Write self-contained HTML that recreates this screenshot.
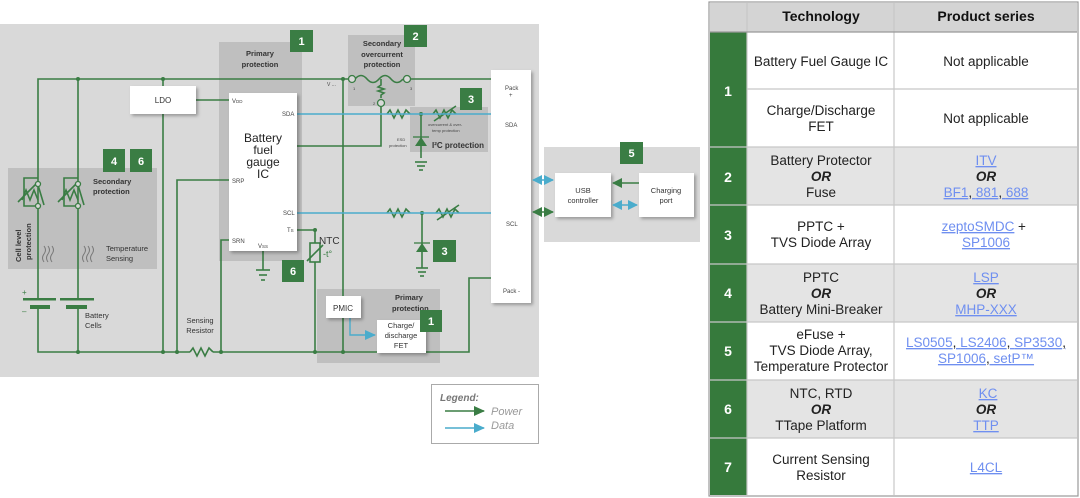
<!DOCTYPE html>
<html><head><meta charset="utf-8"><style>
html,body{margin:0;padding:0;background:#fff;width:1080px;height:498px;overflow:hidden}
svg{display:block}
text{font-family:"Liberation Sans",sans-serif}
</style></head><body>
<svg width="1080" height="498" viewBox="0 0 1080 498" xmlns="http://www.w3.org/2000/svg">
<defs>
<filter id="sh" x="-20%" y="-20%" width="150%" height="150%"><feDropShadow dx="2" dy="2" stdDeviation="1.5" flood-color="#000" flood-opacity="0.3"/></filter>
<marker id="ag" markerWidth="11" markerHeight="10" refX="10" refY="5" orient="auto" markerUnits="userSpaceOnUse"><path d="M0,0 L11,5 L0,10z" fill="#3a7d44"/></marker>
<marker id="ab" markerWidth="11" markerHeight="10" refX="10" refY="5" orient="auto" markerUnits="userSpaceOnUse"><path d="M0,0 L11,5 L0,10z" fill="#4aaccc"/></marker>
<marker id="agS" markerWidth="10" markerHeight="10" refX="9" refY="5" orient="auto-start-reverse" markerUnits="userSpaceOnUse"><path d="M0,0 L10,5 L0,10z" fill="#3a7d44"/></marker>
<marker id="abS" markerWidth="10" markerHeight="10" refX="9" refY="5" orient="auto-start-reverse" markerUnits="userSpaceOnUse"><path d="M0,0 L10,5 L0,10z" fill="#4aaccc"/></marker>
</defs>
<rect x="0" y="24" width="539" height="353" fill="#d9d9d9"/>
<rect x="219" y="42" width="83" height="219" fill="#bfbfbf"/>
<rect x="348" y="35" width="67" height="71" fill="#bfbfbf"/>
<rect x="410" y="107" width="78" height="45" fill="#bfbfbf"/>
<rect x="8" y="168" width="149" height="101" fill="#bfbfbf"/>
<rect x="317" y="289" width="123" height="74" fill="#bfbfbf"/>
<text x="260" y="56" font-size="7.5" font-weight="bold" text-anchor="middle" fill="#333">Primary</text>
<text x="260" y="67" font-size="7.5" font-weight="bold" text-anchor="middle" fill="#333">protection</text>
<text x="382" y="46" font-size="7.5" font-weight="bold" text-anchor="middle" fill="#333">Secondary</text>
<text x="382" y="57" font-size="7.5" font-weight="bold" text-anchor="middle" fill="#333">overcurrent</text>
<text x="382" y="67" font-size="7.5" font-weight="bold" text-anchor="middle" fill="#333">protection</text>
<text x="458" y="148" font-size="8" font-weight="bold" text-anchor="middle" fill="#333">I²C protection</text>
<text x="93" y="184" font-size="7.5" font-weight="bold" fill="#333">Secondary</text>
<text x="93" y="194" font-size="7.5" font-weight="bold" fill="#333">protection</text>
<text x="106" y="251" font-size="7.5" fill="#333">Temperature</text>
<text x="106" y="261" font-size="7.5" fill="#333">Sensing</text>
<text transform="translate(21,262) rotate(-90)" font-size="7.5" font-weight="bold" fill="#333">Cell level</text>
<text transform="translate(31,260) rotate(-90)" font-size="7.5" font-weight="bold" fill="#333">protection</text>
<text x="395" y="300" font-size="7.5" font-weight="bold" fill="#333">Primary</text>
<text x="392" y="311" font-size="7.5" font-weight="bold" fill="#333">protection</text>
<g stroke="#3a7d44" stroke-width="1.6" fill="none">
<polyline points="38,299 38,79 352,79"/>
<line x1="78" y1="79" x2="78" y2="299"/>
<line x1="163" y1="79" x2="163" y2="352"/>
<polyline points="38,307 38,352 190,352"/>
<line x1="78" y1="307" x2="78" y2="352"/>
<polyline points="213,352 377,352"/>
<polyline points="426,352 469,352 469,278 507,278" marker-end="url(#ag)"/>
<line x1="407" y1="79" x2="507" y2="79" marker-end="url(#ag)"/>
<line x1="343" y1="79" x2="343" y2="296"/>
<line x1="343" y1="318" x2="343" y2="352"/>
<line x1="196" y1="100" x2="229" y2="100"/>
<polyline points="229,180 177,180 177,352"/>
<polyline points="229,240 221,240 221,352"/>
<polyline points="297,146 381,146 381,107"/>
<polyline points="297,230 315,230 315,243"/>
<line x1="315" y1="262" x2="315" y2="352"/>
<rect x="310" y="243" width="10" height="19"/>
<line x1="307" y1="261" x2="323" y2="245"/>
<line x1="263" y1="251" x2="263" y2="270"/>
<line x1="256" y1="270" x2="270" y2="270"/><line x1="259" y1="275" x2="267" y2="275"/><line x1="261" y1="280" x2="265" y2="280"/>
<path d="M355,79 q6,-7 12,0 q6,7 12,0 q6,-7 12,0 q6,7 12,0"/>
<path d="M381,79 v6 l-3,2 l6,2 l-6,2 l6,2 l-3,2 v3"/>
<path d="M190,352 l3,-4 l4,8 l4,-8 l4,8 l4,-8 l4,4"/>
<path d="M387,114 l3,-4 l4,8 l4,-8 l4,8 l4,-8 l4,4"/>
<path d="M433,114 l3,-4 l4,8 l4,-8 l4,8 l4,-8 l4,4"/><line x1="434" y1="121" x2="456" y2="106"/>
<line x1="421" y1="114" x2="421" y2="158"/>
<line x1="415" y1="162" x2="427" y2="162"/><line x1="417" y1="166" x2="425" y2="166"/><line x1="419" y1="170" x2="423" y2="170"/>
<path d="M387,213 l3,-4 l4,8 l4,-8 l4,8 l4,-8 l4,4"/>
<path d="M436,213 l3,-4 l4,8 l4,-8 l4,8 l4,-8 l4,4"/><line x1="437" y1="220" x2="459" y2="205"/>
<line x1="422" y1="213" x2="422" y2="268"/>
<line x1="416" y1="268" x2="428" y2="268"/><line x1="418" y1="272" x2="426" y2="272"/><line x1="420" y1="276" x2="424" y2="276"/>
<path d="M38,178 h-14 v28 h14"/><path d="M22,200 l4,-10 l4,10 l4,-10 l4,10"/><line x1="18" y1="202" x2="36" y2="184"/>
<line x1="38" y1="185" x2="44" y2="205"/>
<path d="M78,178 h-14 v28 h14"/><path d="M62,200 l4,-10 l4,10 l4,-10 l4,10"/><line x1="58" y1="202" x2="76" y2="184"/>
<line x1="78" y1="185" x2="84" y2="205"/>
</g>
<g fill="#d9d9d9" stroke="#3a7d44" stroke-width="1.3">
<circle cx="352" cy="79" r="3.5"/><circle cx="407" cy="79" r="3.5"/><circle cx="381" cy="103" r="3.5"/>
<circle cx="38" cy="184" r="2.5"/><circle cx="38" cy="206" r="2.5"/><circle cx="78" cy="184" r="2.5"/><circle cx="78" cy="206" r="2.5"/>
</g>
<g fill="#3a7d44">
<circle cx="78" cy="79" r="2"/><circle cx="163" cy="79" r="2"/><circle cx="343" cy="79" r="2"/>
<circle cx="78" cy="352" r="2"/><circle cx="163" cy="352" r="2"/><circle cx="177" cy="352" r="2"/><circle cx="221" cy="352" r="2"/><circle cx="315" cy="352" r="2"/><circle cx="343" cy="352" r="2"/><circle cx="315" cy="230" r="2"/>
<circle cx="421" cy="114" r="2"/><circle cx="422" cy="213" r="2"/>
<path d="M415,146 h12 l-6,-9z"/><path d="M416,252 h12 l-6,-9z"/>
<rect x="23" y="298" width="33" height="2.5"/><rect x="60" y="298" width="34" height="2.5"/>
<rect x="30" y="305" width="20" height="4"/><rect x="66" y="305" width="21" height="4"/>
</g>
<g stroke="#3a7d44" stroke-width="1.3"><line x1="413" y1="137" x2="429" y2="137"/><line x1="414" y1="243" x2="430" y2="243"/></g>
<text x="22" y="295" font-size="8" fill="#3a7d44">+</text><text x="22" y="314" font-size="8" fill="#3a7d44">–</text>
<g stroke="#777" stroke-width="1" fill="none">
<path d="M44,262 q-3,-4 0,-8 q3,-4 0,-8 M48,262 q-3,-4 0,-8 q3,-4 0,-8 M52,262 q-3,-4 0,-8 q3,-4 0,-8"/>
<path d="M84,262 q-3,-4 0,-8 q3,-4 0,-8 M88,262 q-3,-4 0,-8 q3,-4 0,-8 M92,262 q-3,-4 0,-8 q3,-4 0,-8"/>
</g>
<g stroke="#4aaccc" stroke-width="1.4" fill="none">
<line x1="297" y1="114" x2="510" y2="114" marker-end="url(#ab)"/>
<line x1="297" y1="213" x2="510" y2="213" marker-end="url(#ab)"/>
<polyline points="350,318 350,335 375,335" marker-end="url(#ab)"/>
</g>
<g fill="#fff" filter="url(#sh)">
<rect x="130" y="86" width="66" height="28"/>
<rect x="229" y="93" width="68" height="158"/>
<rect x="326" y="296" width="35" height="22"/>
<rect x="377" y="320" width="49" height="33"/>
<rect x="491" y="70" width="40" height="233"/>
</g>
<text x="163" y="103" font-size="8" text-anchor="middle" fill="#333">LDO</text>
<text x="263" y="142" font-size="12" text-anchor="middle" fill="#222">Battery</text>
<text x="263" y="154" font-size="12" text-anchor="middle" fill="#222">fuel</text>
<text x="263" y="166" font-size="12" text-anchor="middle" fill="#222">gauge</text>
<text x="263" y="178" font-size="12" text-anchor="middle" fill="#222">IC</text>
<g font-size="6" fill="#444">
<text x="232" y="103">V<tspan font-size="4.5">DD</tspan></text>
<text x="282" y="116">SDA</text>
<text x="232" y="183">SRP</text>
<text x="283" y="215">SCL</text>
<text x="287" y="232">T<tspan font-size="4.5">S</tspan></text>
<text x="232" y="243">SRN</text>
<text x="258" y="248">V<tspan font-size="4.5">SS</tspan></text>
<text x="327" y="86" font-size="5">V ...</text>
<text x="505" y="90">Pack</text><text x="509" y="97">+</text>
<text x="505" y="127">SDA</text>
<text x="506" y="226">SCL</text>
<text x="503" y="293">Pack -</text>
<text x="353" y="90" font-size="4">1</text><text x="410" y="90" font-size="4">3</text><text x="373" y="105" font-size="4">2</text>
<text x="428" y="126" font-size="4">overcurrent &amp; over-</text><text x="432" y="132" font-size="4">temp protection</text>
<text x="397" y="141" font-size="4">ESD</text><text x="389" y="147" font-size="4">protection</text>
</g>
<text x="319" y="244" font-size="10" fill="#333">NTC</text>
<text x="323" y="257" font-size="9" fill="#3a7d44">-t°</text>
<text x="343" y="311" font-size="8" text-anchor="middle" fill="#333">PMIC</text>
<text x="401" y="328" font-size="7.5" text-anchor="middle" fill="#333">Charge/</text>
<text x="401" y="338" font-size="7.5" text-anchor="middle" fill="#333">discharge</text>
<text x="401" y="348" font-size="7.5" text-anchor="middle" fill="#333">FET</text>
<text x="85" y="318" font-size="7.5" fill="#333">Battery</text><text x="85" y="328" font-size="7.5" fill="#333">Cells</text>
<text x="200" y="323" font-size="7.5" text-anchor="middle" fill="#333">Sensing</text><text x="200" y="333" font-size="7.5" text-anchor="middle" fill="#333">Resistor</text>
<rect x="544" y="147" width="156" height="95" fill="#d9d9d9"/>
<rect x="555" y="173" width="56" height="44" fill="#fff" filter="url(#sh)"/>
<rect x="639" y="173" width="55" height="44" fill="#fff" filter="url(#sh)"/>
<text x="583" y="193" font-size="7.5" text-anchor="middle" fill="#333">USB</text>
<text x="583" y="203" font-size="7.5" text-anchor="middle" fill="#333">controller</text>
<text x="666" y="193" font-size="7.5" text-anchor="middle" fill="#333">Charging</text>
<text x="666" y="203" font-size="7.5" text-anchor="middle" fill="#333">port</text>
<line x1="533" y1="180" x2="553" y2="180" stroke="#4aaccc" stroke-width="1.6" marker-start="url(#abS)" marker-end="url(#abS)"/>
<line x1="533" y1="212" x2="553" y2="212" stroke="#3a7d44" stroke-width="1.6" marker-start="url(#agS)" marker-end="url(#agS)"/>
<line x1="639" y1="183" x2="613" y2="183" stroke="#3a7d44" stroke-width="1.6" marker-end="url(#agS)"/>
<line x1="613" y1="205" x2="637" y2="205" stroke="#4aaccc" stroke-width="1.6" marker-start="url(#abS)" marker-end="url(#abS)"/>
<g fill="#3a7d44">
<rect x="290" y="30" width="23" height="22"/><rect x="404" y="25" width="23" height="22"/>
<rect x="460" y="88" width="22" height="22"/><rect x="103" y="149" width="22" height="23"/>
<rect x="130" y="149" width="22" height="23"/><rect x="433" y="240" width="23" height="22"/>
<rect x="282" y="260" width="22" height="22"/><rect x="420" y="310" width="22" height="22"/>
<rect x="620" y="142" width="23" height="22"/>
</g>
<g font-size="11" font-weight="bold" fill="#fff" text-anchor="middle">
<text x="301.5" y="45">1</text><text x="415.5" y="40">2</text><text x="471" y="103">3</text>
<text x="114" y="165">4</text><text x="141" y="165">6</text><text x="444.5" y="255">3</text>
<text x="293" y="275">6</text><text x="431" y="325">1</text><text x="631.5" y="157">5</text>
</g>
<rect x="431.5" y="384.5" width="107" height="59" fill="#fff" stroke="#aaa"/>
<text x="440" y="401" font-size="10" font-weight="bold" font-style="italic" fill="#777">Legend:</text>
<line x1="445" y1="411" x2="484" y2="411" stroke="#3a7d44" stroke-width="1.6" marker-end="url(#ag)"/>
<line x1="445" y1="428" x2="484" y2="428" stroke="#4aaccc" stroke-width="1.6" marker-end="url(#ab)"/>
<text x="491" y="415" font-size="11" font-style="italic" fill="#999">Power</text>
<text x="491" y="429" font-size="11" font-style="italic" fill="#999">Data</text>
<rect x="709" y="2" width="369" height="494" fill="#fff" stroke="#999" stroke-width="1.2"/>
<rect x="710" y="3" width="367" height="29" fill="#d4d4d4"/>
<g fill="#e4e4e4"><rect x="747" y="147" width="330" height="58"/><rect x="747" y="264" width="330" height="58"/><rect x="747" y="380" width="330" height="58"/></g>
<rect x="710" y="32" width="37" height="463" fill="#367a3c"/>
<g stroke="#c8c8c8" stroke-width="1.2">
<line x1="747" y1="3" x2="747" y2="495"/><line x1="894" y1="3" x2="894" y2="495"/>
<line x1="747" y1="89" x2="1077" y2="89"/>
<line x1="710" y1="32" x2="1077" y2="32" stroke="#999"/>
<line x1="710" y1="147" x2="1077" y2="147"/><line x1="710" y1="205" x2="1077" y2="205"/><line x1="710" y1="264" x2="1077" y2="264"/>
<line x1="710" y1="322" x2="1077" y2="322"/><line x1="710" y1="380" x2="1077" y2="380"/><line x1="710" y1="438" x2="1077" y2="438"/>
</g>
<g font-size="14" font-weight="bold" fill="#fff" text-anchor="middle">
<text x="728" y="96">1</text><text x="728" y="182">2</text><text x="728" y="240">3</text><text x="728" y="298">4</text><text x="728" y="356">5</text><text x="728" y="414">6</text><text x="728" y="472">7</text>
</g>
<text x="821" y="21" font-size="14" font-weight="bold" text-anchor="middle" fill="#111">Technology</text>
<text x="986" y="21" font-size="14" font-weight="bold" text-anchor="middle" fill="#111">Product series</text>
<g font-size="13.5" fill="#222" text-anchor="middle">
<text x="821" y="66">Battery Fuel Gauge IC</text>
<text x="821" y="115">Charge/Discharge</text><text x="821" y="131">FET</text>
<text x="821" y="165">Battery Protector</text><text x="821" y="181" font-weight="bold" font-style="italic">OR</text><text x="821" y="197">Fuse</text>
<text x="821" y="231">PPTC +</text><text x="821" y="247">TVS Diode Array</text>
<text x="821" y="282">PPTC</text><text x="821" y="298" font-weight="bold" font-style="italic">OR</text><text x="821" y="314">Battery Mini-Breaker</text>
<text x="821" y="339">eFuse +</text><text x="821" y="355">TVS Diode Array,</text><text x="821" y="371">Temperature Protector</text>
<text x="821" y="398">NTC, RTD</text><text x="821" y="414" font-weight="bold" font-style="italic">OR</text><text x="821" y="430">TTape Platform</text>
<text x="821" y="464">Current Sensing</text><text x="821" y="480">Resistor</text>
<text x="986" y="66">Not applicable</text><text x="986" y="123">Not applicable</text>
<text x="986" y="181" font-weight="bold" font-style="italic">OR</text>
<text x="986" y="298" font-weight="bold" font-style="italic">OR</text>
<text x="986" y="414" font-weight="bold" font-style="italic">OR</text>
<text x="1022" y="231">+</text>
</g>
<g font-size="13.5" fill="#6f8ff0" text-anchor="middle" text-decoration="underline">
<text x="986" y="165">ITV</text>
<text x="986" y="197"><tspan>BF1</tspan><tspan fill="#222" text-decoration="none">, </tspan><tspan>881</tspan><tspan fill="#222" text-decoration="none">, </tspan><tspan>688</tspan></text>
<text x="978" y="231">zeptoSMDC</text>
<text x="986" y="247">SP1006</text>
<text x="986" y="282">LSP</text><text x="986" y="314">MHP-XXX</text>
<text x="986" y="347"><tspan>LS0505</tspan><tspan fill="#222" text-decoration="none">, </tspan><tspan>LS2406</tspan><tspan fill="#222" text-decoration="none">, </tspan><tspan>SP3530</tspan><tspan fill="#222" text-decoration="none">,</tspan></text>
<text x="986" y="363"><tspan>SP1006</tspan><tspan fill="#222" text-decoration="none">, </tspan><tspan>setP™</tspan></text>
<text x="988" y="398">KC</text><text x="986" y="430">TTP</text>
<text x="986" y="472">L4CL</text>
</g>
</svg>
</body></html>
